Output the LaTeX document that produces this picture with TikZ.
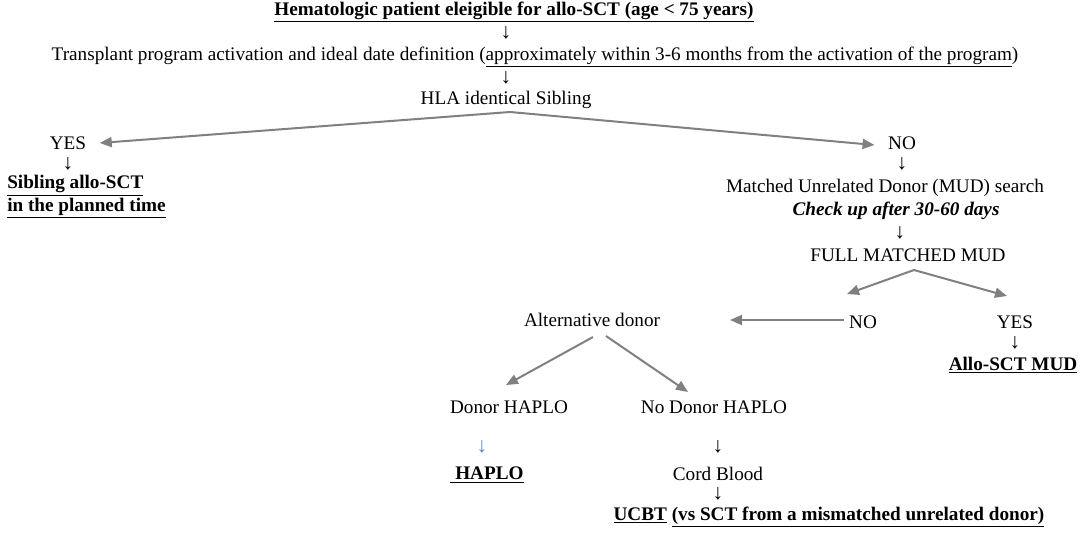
\documentclass[tikz,border=0pt]{standalone}
\usepackage{fontspec}
\setmainfont{Liberation Serif}
\usetikzlibrary{arrows.meta}
\definecolor{arrgray}{HTML}{808080}
\definecolor{arrblue}{HTML}{5B86B0}
\tikzset{
  txt/.style={inner sep=0pt, font=\fontsize{14.4}{17.25}\selectfont},
  btxt/.style={txt, font=\fontsize{14.4}{17.25}\selectfont\bfseries},
  dnarrow/.style={inner sep=0pt, font=\fontsize{16}{17}\selectfont, text height=7pt, text depth=0pt},
  garrow/.style={draw=arrgray, line width=1.5pt, -{Triangle[length=9pt,width=7.5pt]}, arrgray},
}
\begin{document}
\begin{tikzpicture}[x=0.75pt,y=-0.75pt]
\useasboundingbox (0,0) rectangle (1084,536);
% top chain
\node[btxt] (title) at (514,12) {\underline{Hematologic patient eleigible for allo-SCT (age < 75 years)}};
\node[dnarrow] (d1) at (506,34) {↓};
\node[txt] (prog) at (535,57) {Transplant program activation and ideal date definition (\underline{approximately within 3-6 months from the activation of the program})};
\node[dnarrow] (d2) at (506,79) {↓};
\node[txt] (hla) at (506,100) {HLA identical Sibling};
\coordinate (hlaS) at (510,112);
% left branch
\node[txt] (yes1) at (68,143) {YES};
\node[dnarrow] (d3) at (68,165) {↓};
\node[btxt, align=left, anchor=west] (sib) at (7,197) {\underline{Sibling allo-SCT}\\\underline{in the planned time}};
% right branch
\node[txt] (no1) at (902,143) {NO};
\node[dnarrow] (d4) at (902,165) {↓};
\node[txt] (mud) at (885,188) {Matched Unrelated Donor (MUD) search};
\node[txt, font=\fontsize{14.4}{17.25}\selectfont\bfseries\itshape] (chk) at (896,211) {Check up after 30-60 days};
\node[dnarrow] (d5) at (900,234) {↓};
\node[txt] (full) at (908,255) {FULL MATCHED MUD};
\coordinate (fullS) at (914,270);
\node[txt] (no2) at (863,322) {NO};
\node[txt] (yes2) at (1015,322) {YES};
\node[dnarrow] (d6) at (1015,344) {↓};
\node[btxt] (allo) at (1013,365) {\underline{Allo-SCT MUD}};
% alternative donor
\node[txt] (alt) at (592,320) {Alternative donor};
\coordinate (altS1) at (593,337);
\coordinate (altS2) at (606,336);
\coordinate (altE) at (730,320);
\node[txt] (dh) at (509,407) {Donor HAPLO};
\node[txt] (ndh) at (714,407) {No Donor HAPLO};
\node[dnarrow, text=arrblue] (d7) at (482,448) {↓};
\node[btxt] (haplo) at (487,475) {\underline{\ HAPLO}};
\node[dnarrow] (d8) at (718,448) {↓};
\node[txt] (cord) at (718,474) {Cord Blood};
\node[dnarrow] (d9) at (718,495) {↓};
\node[btxt] (ucbt) at (829,517) {\underline{UCBT} \underline{(vs SCT from a mismatched unrelated donor)}};
% gray connectors
\draw[garrow] (hlaS) -- ([xshift=10pt]yes1.east);
\draw[garrow] (hlaS) -- ([xshift=-10pt,yshift=-1.5pt]no1.west);
\draw[garrow] (fullS) -- (847,294);
\draw[garrow] (fullS) -- (1007,296);
\draw[garrow] ([xshift=-4pt]no2.west |- altE) -- (altE);
\draw[garrow] (altS1) -- (506,385);
\draw[garrow] (altS2) -- (688,392);
\end{tikzpicture}
\end{document}
